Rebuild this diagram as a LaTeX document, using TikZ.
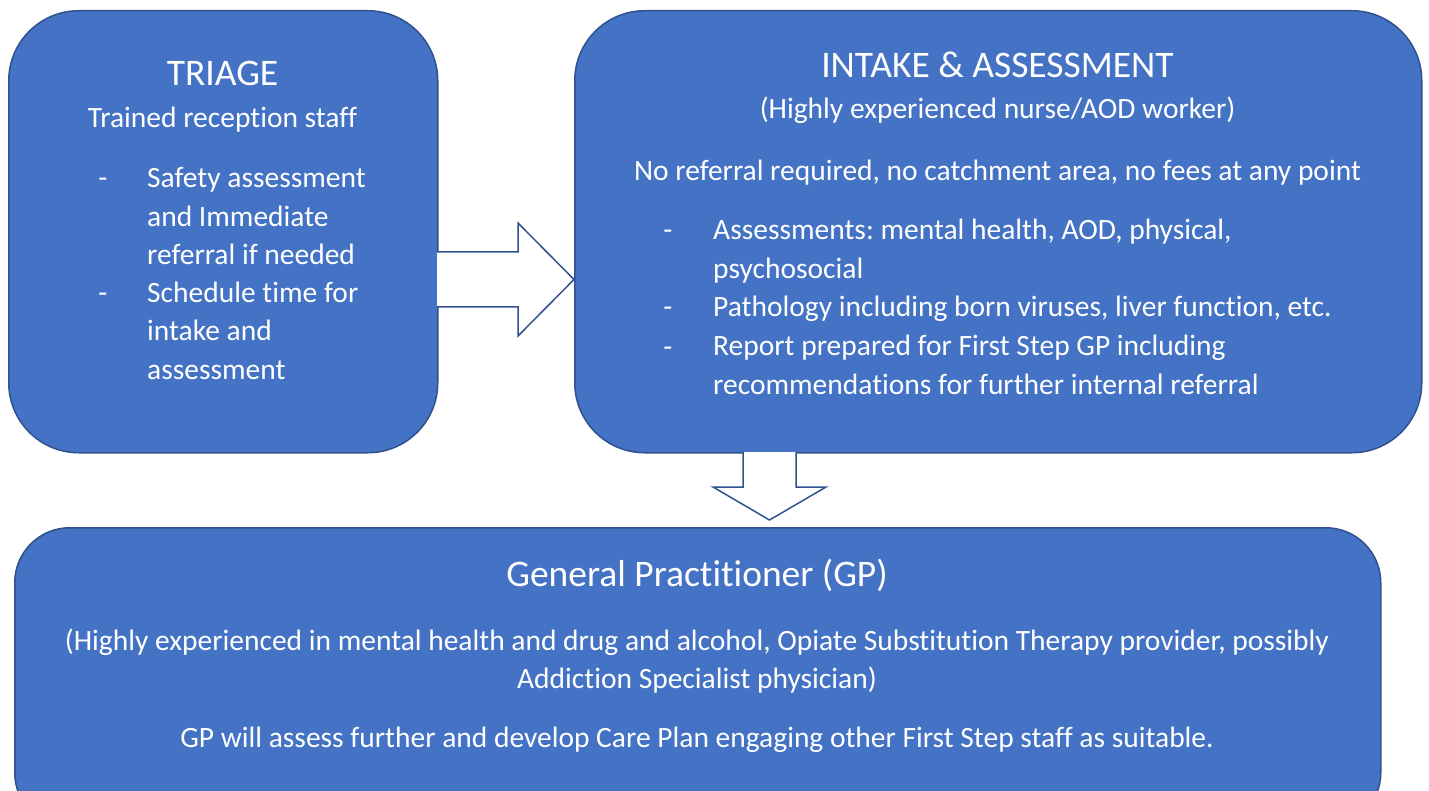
\documentclass[tikz,border=0pt]{standalone}
\usepackage{fontspec}
\setmainfont[Ligatures=NoCommon]{Carlito}
\usetikzlibrary{positioning}
\definecolor{boxblue}{HTML}{4472C4}
\definecolor{boxline}{HTML}{2F528F}
\frenchspacing
\tikzset{
  stagebox/.style={draw=boxline,fill=boxblue,line width=1.5pt,rounded corners=70pt,inner sep=0pt},
  txt/.style={text=white,inner sep=0pt,anchor=base,font=\fontsize{29.5}{35}\selectfont},
  ttl/.style={txt,font=\fontsize{37.5}{44}\selectfont},
  bul/.style={txt,anchor=base west},
  hyph/.style={txt},
  blockarrow/.style={draw=boxline,fill=white,line width=1.5pt,line join=miter}
}

\begin{document}
\begin{tikzpicture}[x=1pt,y=-1pt]
\useasboundingbox (0,0) rectangle (1429,791);
\clip (0,0) rectangle (1429,791);
% the three stages
\node[stagebox,anchor=north west,minimum width=429pt,minimum height=442pt] (triage) at (8,10) {};
\node[stagebox,anchor=north west,minimum width=847pt,minimum height=442pt] (intake) at (574,10) {};
\node[stagebox,anchor=north west,minimum width=1366pt,minimum height=300pt,rounded corners=55pt] (gp) at (14,527) {};
% block arrows
\coordinate (rarrow) at (437,279.5);
\coordinate (darrow) at (769.5,452);
\draw[blockarrow] (rarrow) ++(0,-27.5) -- ++(81,0) -- ++(0,-29) -- ++(56,56.5) -- ++(-56,56.5) -- ++(0,-29) -- ++(-81,0);
\draw[blockarrow] (darrow) ++(-26.5,0) -- ++(0,35) -- ++(-30,0) -- ++(56.5,33) -- ++(56.5,-33) -- ++(-30,0) -- ++(0,-35);
% triage text
\node[ttl] (triagettl) at (222.5,86) {TRIAGE};
\node[txt] (triagestaff) at (222.5,128) {Trained reception staff};
\node[hyph] (th1) at (103,188) {-};
\node[hyph] (th2) at (103,303) {-};
\foreach \ln [count=\i from 0] in {Safety assessment,and Immediate,referral if needed,Schedule time for,intake and,assessment}
  \node[bul] (tl\i) at (147,188+38.2*\i) {\ln};
% intake text
\node[ttl] (intakettl) at (997.5,78) {INTAKE \& ASSESSMENT};
\node[txt] (intakestaff) at (997.5,119) {(Highly experienced nurse/AOD worker)};
\node[txt] (intakefree) at (997.5,181) {No referral required, no catchment area, no fees at any point};
\node[hyph] (ih1) at (668,240) {-};
\node[hyph] (ih2) at (668,317) {-};
\node[hyph] (ih3) at (668,356) {-};
\foreach \ln [count=\i from 0] in {{Assessments: mental health, AOD, physical,},psychosocial,{Pathology including born viruses, liver function, etc.},Report prepared for First Step GP including,recommendations for further internal referral}
  \node[bul] (il\i) at (713,240+38.5*\i) {\ln};
% gp text
\node[ttl] (gpttl) at (697,586) {General Practitioner (GP)};
\node[txt] (gpstaff) at (697,650) {(Highly experienced in mental health and drug and alcohol, Opiate Substitution Therapy provider, possibly};
\node[txt] (gpstaffb) at (697,688) {Addiction Specialist physician)};
\node[txt] (gpplan) at (697,747) {GP will assess further and develop Care Plan engaging other First Step staff as suitable.};
\end{tikzpicture}
\end{document}
